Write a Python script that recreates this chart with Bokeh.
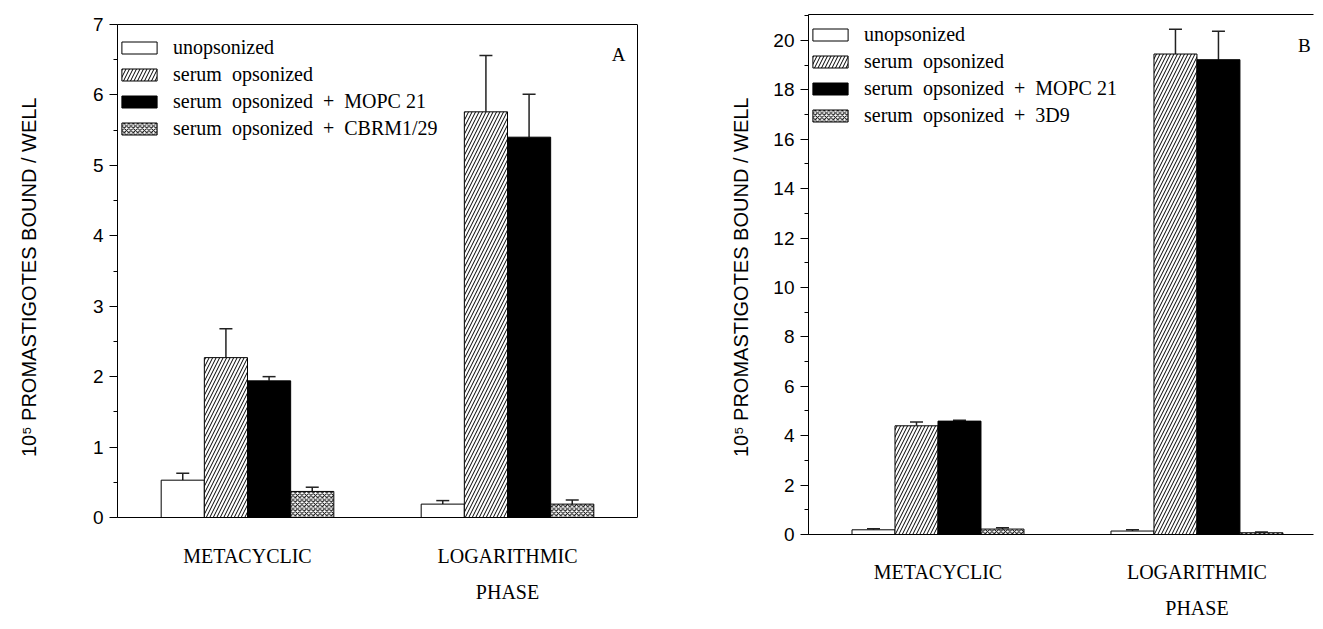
from bokeh.plotting import figure
from bokeh.models import (Range1d, SingleIntervalTicker, FixedTicker, LinearAxis, Legend,
                          LegendItem, Whisker, TeeHead, ColumnDataSource, Label, Span)
from bokeh.layouts import row
from bokeh.embed import file_html
from bokeh.resources import INLINE

groups = ["METACYCLIC", "LOGARITHMIC"]
group_line2 = ["", "PHASE"]
y_title = "10⁵ PROMASTIGOTES  BOUND / WELL"

series_a = ["unopsonized", "serum  opsonized", "serum  opsonized  +  MOPC 21", "serum  opsonized  +  CBRM1/29"]
a_unop = [0.53, 0.19]
a_unop_err = [0.10, 0.05]
a_serum = [2.27, 5.76]
a_serum_err = [0.41, 0.80]
a_mopc = [1.94, 5.40]
a_mopc_err = [0.06, 0.61]
a_cbrm = [0.37, 0.19]
a_cbrm_err = [0.06, 0.06]

series_b = ["unopsonized", "serum  opsonized", "serum  opsonized  +  MOPC 21", "serum  opsonized  +  3D9"]
b_unop = [0.19, 0.14]
b_unop_err = [0.04, 0.05]
b_serum = [4.40, 19.45]
b_serum_err = [0.15, 1.00]
b_mopc = [4.59, 19.22]
b_mopc_err = [0.03, 1.15]
b_3d9 = [0.22, 0.07]
b_3d9_err = [0.05, 0.03]

SERIF = "Liberation Serif"
SANS = "Liberation Sans"
BAR_W = 0.166
styles = [
    dict(fill_color="white", hatch_pattern=None),
    dict(fill_color="white", hatch_pattern="/", hatch_scale=7, hatch_weight=1, hatch_color="black"),
    dict(fill_color="black", hatch_pattern=None),
    dict(fill_color="white", hatch_pattern="x", hatch_scale=4.5, hatch_weight=1, hatch_color="black"),
]

FRAME_TOP = 14
FRAME_BOTTOM = 534
HEIGHT = 621


def make_panel(series, vals, errs, y_max, y_range, interval, x_end, width, min_left, min_right,
               label_standoff, x_standoff, letter, letter_xy, legend_loc, legend_pad, boxed):
    p = figure(width=width, height=HEIGHT, output_backend="svg", toolbar_location=None,
               x_range=Range1d(-0.5, x_end), y_range=Range1d(*y_range),
               min_border_left=min_left, min_border_top=FRAME_TOP, min_border_right=min_right,
               min_border_bottom=HEIGHT - FRAME_BOTTOM)
    p.xgrid.grid_line_color = None
    p.ygrid.grid_line_color = None
    p.background_fill_color = "white"
    p.border_fill_color = "white"
    p.outline_line_color = None

    ya = p.left[0]
    ya.ticker = SingleIntervalTicker(interval=interval, num_minor_ticks=2)
    ya.bounds = (0, y_max)
    ya.major_tick_out = 8
    ya.major_tick_in = 0
    ya.minor_tick_out = 4
    ya.minor_tick_in = 0
    ya.axis_line_color = "black"
    ya.major_tick_line_color = "black"
    ya.minor_tick_line_color = "black"
    ya.major_label_text_font = SANS
    ya.major_label_text_font_size = "19px"
    ya.major_label_text_color = "black"
    ya.major_label_standoff = 6
    ya.axis_label = y_title
    ya.axis_label_text_font = SANS
    ya.axis_label_text_font_size = "20px"
    ya.axis_label_text_font_style = "normal"
    ya.axis_label_text_color = "black"
    ya.axis_label_standoff = label_standoff

    xa = p.below[0]
    xa.ticker = FixedTicker(ticks=[0, 1])
    xa.major_label_overrides = {0: groups[0], 1: groups[1]}
    xa.major_tick_out = 0
    xa.major_tick_in = 0
    xa.minor_tick_out = 0
    xa.minor_tick_in = 0
    xa.axis_line_color = None if boxed else "black"
    xa.major_label_text_font = SERIF
    xa.major_label_text_font_size = "20px"
    xa.major_label_text_color = "black"
    xa.major_label_standoff = x_standoff
    x2 = LinearAxis(ticker=FixedTicker(ticks=[0, 1]),
                    major_label_overrides={0: group_line2[0], 1: group_line2[1]},
                    major_tick_out=0, major_tick_in=0, minor_tick_out=0, minor_tick_in=0,
                    axis_line_color=None, major_label_text_font=SERIF,
                    major_label_text_font_size="20px", major_label_text_color="black",
                    major_label_standoff=11)
    p.add_layout(x2, "below")

    if boxed:
        p.add_layout(Span(location=0, dimension="width", line_color="black", line_width=1))
        p.add_layout(Span(location=y_max, dimension="width", line_color="black", line_width=1))
        right = LinearAxis(ticker=FixedTicker(ticks=[]), bounds=(0, y_max),
                           major_label_text_font_size="0px", major_tick_out=0, major_tick_in=0,
                           minor_tick_out=0, minor_tick_in=0, axis_line_color="black",
                           axis_line_width=1, major_label_standoff=0)
        p.add_layout(right, "right")
    else:
        top = LinearAxis(ticker=FixedTicker(ticks=[]), major_label_text_font_size="0px",
                         major_tick_out=0, major_tick_in=0, minor_tick_out=0, minor_tick_in=0,
                         axis_line_color="black", axis_line_width=1, major_label_standoff=0)
        p.add_layout(top, "above")

    items = []
    offsets = [-1.5, -0.5, 0.5, 1.5]
    for i, name in enumerate(series):
        xs = [g + offsets[i] * BAR_W for g in range(len(groups))]
        top_vals = vals[i]
        src = ColumnDataSource(dict(x=xs, top=top_vals,
                                    upper=[t + e for t, e in zip(top_vals, errs[i])]))
        r = p.vbar(x="x", top="top", width=BAR_W, source=src, line_color="black",
                   line_width=1, **styles[i])
        items.append(LegendItem(label=name, renderers=[r]))
        w = Whisker(base="x", lower="top", upper="upper", source=src, dimension="height",
                    line_color="#222222", line_width=1.5, lower_head=None,
                    upper_head=TeeHead(size=13, line_color="#222222", line_width=1.5))
        p.add_layout(w)

    leg = Legend(items=items, location=legend_loc, margin=0, padding=legend_pad,
                 glyph_width=44, glyph_height=15, label_height=27, spacing=0,
                 label_standoff=12, label_text_font=SERIF, label_text_font_size="20px",
                 label_text_color="black", background_fill_alpha=0, border_line_color=None)
    p.add_layout(leg)

    p.add_layout(Label(x=letter_xy[0], y=letter_xy[1], text=letter, text_font=SERIF,
                       text_font_size="19px", text_color="black", text_align="center",
                       text_baseline="middle"))
    return p


a_px = (517 - 24) / 7
a_range = (-(FRAME_BOTTOM - 517) / a_px, 7 + (24 - FRAME_TOP) / a_px)

pa = make_panel(series_a, [a_unop, a_serum, a_mopc, a_cbrm],
                [a_unop_err, a_serum_err, a_mopc_err, a_cbrm_err],
                7, a_range, 1, 1.5, 708, 117, 71, 50, 10, "A", (1.427, 6.57), (0, 392), 7, True)
pb = make_panel(series_b, [b_unop, b_serum, b_mopc, b_3d9],
                [b_unop_err, b_serum_err, b_mopc_err, b_3d9_err],
                21.05, (0, 21.05), 2, 1.45, 607, 100, 2, 18, 26, "B", (1.415, 19.8), (0, 405), 7, False)

layout = row(pa, pb)
open("out.html", "w").write(file_html(layout, INLINE))
